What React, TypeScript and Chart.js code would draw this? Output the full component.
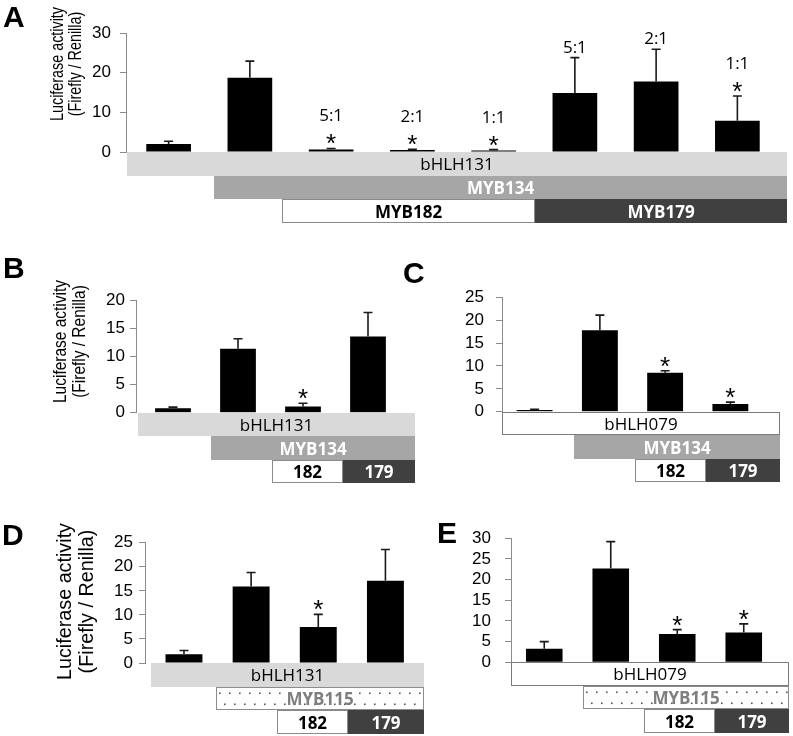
import React, { useEffect, useRef } from 'react';
import { Chart, registerables } from 'chart.js';
Chart.register(...registerables);

// ---------------- Data ----------------
const categoriesA = ['bHLH131', 'bHLH131+MYB134', '+MYB182 5:1', '+MYB182 2:1', '+MYB182 1:1', '+MYB179 5:1', '+MYB179 2:1', '+MYB179 1:1'];
const valuesA = [2.0, 18.7, 0.6, 0.5, 0.4, 14.9, 17.8, 7.9];
const errorsA = [0.7, 4.2, 0.3, 0.2, 0.2, 8.9, 8.1, 6.2];
const ratiosA = ['', '', '5:1', '2:1', '1:1', '5:1', '2:1', '1:1'];
const starsA = [false, false, true, true, true, false, false, true];
const yTicksA = [0, 10, 20, 30];

const categoriesB = ['bHLH131', '+MYB134', '+MYB134+MYB182', '+MYB134+MYB179'];
const valuesB = [0.8, 11.4, 1.1, 13.6];
const errorsB = [0.2, 1.8, 0.6, 4.3];
const starsB = [false, false, true, false];
const yTicksB = [0, 5, 10, 15, 20];

const categoriesC = ['bHLH079', '+MYB134', '+MYB134+MYB182', '+MYB134+MYB179'];
const valuesC = [0.35, 17.8, 8.5, 1.7];
const errorsC = [0.15, 3.3, 0.45, 0.4];
const starsC = [false, false, true, true];
const yTicksC = [0, 5, 10, 15, 20, 25];

const categoriesD = ['bHLH131', '+MYB115', '+MYB115+MYB182', '+MYB115+MYB179'];
const valuesD = [1.8, 15.9, 7.5, 17.1];
const errorsD = [0.8, 2.9, 2.6, 6.5];
const starsD = [false, false, true, false];
const yTicksD = [0, 5, 10, 15, 20, 25];

const categoriesE = ['bHLH079', '+MYB115', '+MYB115+MYB182', '+MYB115+MYB179'];
const valuesE = [3.3, 22.7, 6.85, 7.2];
const errorsE = [1.7, 6.5, 1.05, 2.1];
const starsE = [false, false, true, true];
const yTicksE = [0, 5, 10, 15, 20, 25, 30];

const yTitleLines = ['Luciferase activity', '(Firefly / Renilla)'];

// Construct boxes below the axis (ranges in category-index units)
type BoxKind = 'light' | 'mid' | 'white' | 'whiteBold' | 'dark' | 'dots';
type Box = { text: string; from: number; to: number; row: number; kind: BoxKind };

const boxesA: Box[] = [
  { text: 'bHLH131', from: -0.51, to: 7.61, row: 0, kind: 'light' },
  { text: 'MYB134', from: 0.56, to: 7.61, row: 1, kind: 'mid' },
  { text: 'MYB182', from: 1.4, to: 4.51, row: 2, kind: 'whiteBold' },
  { text: 'MYB179', from: 4.51, to: 7.61, row: 2, kind: 'dark' },
];
const boxesB: Box[] = [
  { text: 'bHLH131', from: -0.54, to: 3.72, row: 0, kind: 'light' },
  { text: 'MYB134', from: 0.585, to: 3.72, row: 1, kind: 'mid' },
  { text: '182', from: 1.52, to: 2.61, row: 2, kind: 'whiteBold' },
  { text: '179', from: 2.61, to: 3.72, row: 2, kind: 'dark' },
];
const boxesC: Box[] = [
  { text: 'bHLH079', from: -0.5, to: 3.76, row: 0, kind: 'white' },
  { text: 'MYB134', from: 0.6, to: 3.76, row: 1, kind: 'mid' },
  { text: '182', from: 1.54, to: 2.62, row: 2, kind: 'whiteBold' },
  { text: '179', from: 2.62, to: 3.76, row: 2, kind: 'dark' },
];
const boxesD: Box[] = [
  { text: 'bHLH131', from: -0.49, to: 3.57, row: 0, kind: 'light' },
  { text: 'MYB115', from: 0.48, to: 3.57, row: 1, kind: 'dots' },
  { text: '182', from: 1.385, to: 2.44, row: 2, kind: 'whiteBold' },
  { text: '179', from: 2.44, to: 3.57, row: 2, kind: 'dark' },
];
const boxesE: Box[] = [
  { text: 'bHLH079', from: -0.5, to: 3.68, row: 0, kind: 'white' },
  { text: 'MYB115', from: 0.58, to: 3.68, row: 1, kind: 'dots' },
  { text: '182', from: 1.5, to: 2.57, row: 2, kind: 'whiteBold' },
  { text: '179', from: 2.57, to: 3.68, row: 2, kind: 'dark' },
];

type Layout = {
  left: number; top: number; w: number; h: number;
  axisX: number; plotLeft: number; plotRight: number; plotTop: number; plotBottom: number;
  tickPad: number; letterX: number; letterY: number;
  title?: { x1: number; x2: number; y: number; len: number; size: number };
};

type Spec = {
  letter: string; cats: string[]; vals: number[]; errs: number[]; ratios: string[]; stars: boolean[];
  yTicks: number[]; boxes: Box[]; L: Layout;
};

const specs: Spec[] = [
  {
    letter: 'A', cats: categoriesA, vals: valuesA, errs: errorsA, ratios: ratiosA, stars: starsA, yTicks: yTicksA, boxes: boxesA,
    L: { left: 0, top: 0, w: 793, h: 232, axisX: 126, plotLeft: 128, plotRight: 778, plotTop: 33, plotBottom: 152, tickPad: 9, letterX: 3, letterY: 27,
      title: { x1: 58.5, x2: 76.5, y: 64, len: 114, size: 18 } },
  },
  {
    letter: 'B', cats: categoriesB, vals: valuesB, errs: errorsB, ratios: [], stars: starsB, yTicks: yTicksB, boxes: boxesB,
    L: { left: 0, top: 250, w: 420, h: 240, axisX: 136, plotLeft: 140.5, plotRight: 400.5, plotTop: 50.7, plotBottom: 162.7, tickPad: 5, letterX: 3, letterY: 28,
      title: { x1: 61.5, x2: 80.5, y: 91.5, len: 123, size: 18 } },
  },
  {
    letter: 'C', cats: categoriesC, vals: valuesC, errs: errorsC, ratios: [], stars: starsC, yTicks: yTicksC, boxes: boxesC,
    L: { left: 400, top: 250, w: 393, h: 240, axisX: 102, plotLeft: 102, plotRight: 363, plotTop: 47.3, plotBottom: 161.7, tickPad: 12, letterX: 3, letterY: 33 },
  },
  {
    letter: 'D', cats: categoriesD, vals: valuesD, errs: errorsD, ratios: [], stars: starsD, yTicks: yTicksD, boxes: boxesD,
    L: { left: 0, top: 500, w: 430, h: 236, axisX: 145, plotLeft: 150.4, plotRight: 419, plotTop: 42.7, plotBottom: 163, tickPad: 6, letterX: 2, letterY: 45,
      title: { x1: 66, x2: 87.5, y: 101.5, len: 157, size: 19.5 } },
  },
  {
    letter: 'E', cats: categoriesE, vals: valuesE, errs: errorsE, ratios: [], stars: starsE, yTicks: yTicksE, boxes: boxesE,
    L: { left: 400, top: 500, w: 393, h: 236, axisX: 111, plotLeft: 111, plotRight: 377, plotTop: 38.3, plotBottom: 162.3, tickPad: 14, letterX: 37, letterY: 43 },
  },
];

const ROW_H = 23.5;
const BOX_FONT = '"Open Sans", "Noto Sans", sans-serif';
const AX_FONT = '"Liberation Sans", Arial, sans-serif';

function centerText(ctx: CanvasRenderingContext2D, text: string, x: number, y: number) {
  const m = ctx.measureText(text);
  ctx.textAlign = 'center';
  ctx.textBaseline = 'alphabetic';
  ctx.fillText(text, x, y + (m.actualBoundingBoxAscent - m.actualBoundingBoxDescent) / 2);
}

let dotPattern: CanvasPattern | null = null;
function getDots(ctx: CanvasRenderingContext2D) {
  if (dotPattern) return dotPattern;
  const pc = document.createElement('canvas');
  pc.width = 10; pc.height = 22;
  const p = pc.getContext('2d')!;
  p.fillStyle = '#ffffff';
  p.fillRect(0, 0, 10, 22);
  p.fillStyle = '#555555';
  p.fillRect(3, 5.5, 1.6, 1.6);
  p.fillRect(8, 16.5, 1.6, 1.6);
  dotPattern = ctx.createPattern(pc, 'repeat');
  return dotPattern!;
}

function makePlugin(s: Spec) {
  return {
    id: 'panel' + s.letter,
    afterLayout(chart: any) {
      const x = chart.scales.x;
      x.left = s.L.plotLeft;
      x.right = s.L.plotRight;
      x.width = x.right - x.left;
      x.configure();
    },
    afterDatasetsDraw(chart: any) {
      const ctx: CanvasRenderingContext2D = chart.ctx;
      const y = chart.scales.y;
      const meta = chart.getDatasetMeta(0);
      ctx.save();
      meta.data.forEach((el: any, i: number) => {
        const top = y.getPixelForValue(s.vals[i] + s.errs[i]);
        ctx.strokeStyle = '#1a1a1a';
        ctx.lineWidth = 1.6;
        ctx.beginPath();
        ctx.moveTo(el.x, el.y);
        ctx.lineTo(el.x, top);
        ctx.moveTo(el.x - 4.5, top);
        ctx.lineTo(el.x + 4.5, top);
        ctx.stroke();
        ctx.fillStyle = '#000';
        if (s.stars[i]) {
          ctx.font = `26px ${AX_FONT}`;
          centerText(ctx, '*', el.x, top - 9);
        }
        const r = s.ratios[i];
        if (r) {
          ctx.font = `17px ${BOX_FONT}`;
          centerText(ctx, r, el.x, s.stars[i] ? top - 33 : top - 11);
        }
      });
      ctx.restore();
    },
    afterDraw(chart: any) {
      const ctx: CanvasRenderingContext2D = chart.ctx;
      const x = chart.scales.x;
      const base = chart.chartArea.bottom;
      ctx.save();
      s.boxes.forEach((b) => {
        const x0 = Math.round(x.getPixelForValue(b.from));
        const x1 = Math.round(x.getPixelForValue(b.to));
        const y0 = Math.round(base + b.row * ROW_H);
        const y1 = Math.round(base + (b.row + 1) * ROW_H);
        const w = x1 - x0, h = y1 - y0;
        let fill: any = '#fff', stroke: string | null = null, color = '#000', bold = false;
        switch (b.kind) {
          case 'light': fill = '#d9d9d9'; break;
          case 'mid': fill = '#a6a6a6'; color = '#fff'; bold = true; break;
          case 'white': fill = '#fff'; stroke = '#7a7a7a'; break;
          case 'whiteBold': fill = '#fff'; stroke = '#8a8a8a'; bold = true; break;
          case 'dark': fill = '#404040'; color = '#fff'; bold = true; break;
          case 'dots': fill = getDots(ctx); stroke = '#8c8c8c'; color = '#7f7f7f'; bold = true; break;
        }
        ctx.save();
        ctx.translate(x0, y0);
        ctx.fillStyle = fill;
        ctx.fillRect(0, 0, w, h);
        ctx.restore();
        if (stroke) {
          ctx.strokeStyle = stroke;
          ctx.lineWidth = 1;
          ctx.strokeRect(x0 + 0.5, y0 + 0.5, w - 1, h - 1);
        }
        ctx.fillStyle = color;
        ctx.font = `${bold ? 'bold ' : ''}17px ${BOX_FONT}`;
        centerText(ctx, b.text, (x0 + x1) / 2, (y0 + y1) / 2);
      });
      const t = s.L.title;
      if (t) {
        ctx.fillStyle = '#000';
        ctx.font = `${t.size}px ${AX_FONT}`;
        const sc = t.len / ctx.measureText(yTitleLines[0]).width;
        [t.x1, t.x2].forEach((cx, i) => {
          ctx.save();
          ctx.translate(cx, t.y);
          ctx.rotate(-Math.PI / 2);
          ctx.scale(sc, 1);
          ctx.textAlign = 'center';
          ctx.textBaseline = 'middle';
          ctx.fillText(yTitleLines[i], 0, 0);
          ctx.restore();
        });
      }
      ctx.fillStyle = '#000';
      ctx.font = `bold 30px ${AX_FONT}`;
      ctx.textAlign = 'left';
      ctx.textBaseline = 'alphabetic';
      ctx.fillText(s.letter, s.L.letterX, s.L.letterY);
      ctx.restore();
    },
  };
}

function Panel({ spec }: { spec: Spec }) {
  const ref = useRef<HTMLCanvasElement>(null);
  useEffect(() => {
    const canvas = ref.current!;
    const L = spec.L;
    const chart = new Chart(canvas, {
      type: 'bar',
      data: {
        labels: spec.cats,
        datasets: [{
          data: spec.vals,
          backgroundColor: '#000000',
          borderWidth: 0,
          barPercentage: 0.55,
          categoryPercentage: 1,
        }],
      },
      options: {
        responsive: false,
        animation: false,
        events: [],
        layout: { padding: { left: 0, top: L.plotTop, right: L.w - L.plotRight, bottom: L.h - L.plotBottom } },
        plugins: { legend: { display: false }, tooltip: { enabled: false } },
        scales: {
          x: { display: false, offset: true, grid: { display: false } },
          y: {
            min: 0,
            max: spec.yTicks[spec.yTicks.length - 1],
            ticks: {
              stepSize: spec.yTicks[1] - spec.yTicks[0],
              autoSkip: false,
              color: '#000',
              padding: L.tickPad,
              font: { family: AX_FONT, size: 17 },
            },
            grid: { drawOnChartArea: false, drawTicks: true, tickLength: 6, color: '#8c8c8c', lineWidth: 1 },
            border: { display: true, color: '#8c8c8c', width: 1 },
            afterFit: (sc: any) => { sc.width = L.axisX; },
          },
        },
      } as any,
      plugins: [makePlugin(spec)],
    });
    return () => chart.destroy();
  }, [spec]);
  const L = spec.L;
  return (
    <canvas
      ref={ref}
      width={L.w}
      height={L.h}
      style={{ position: 'absolute', left: L.left, top: L.top, width: L.w, height: L.h }}
    />
  );
}

export default function App() {
  return (
    <div style={{ position: 'absolute', left: 0, top: 0, width: 793, height: 736, background: '#fff', overflow: 'hidden' }}>
      {specs.map((s) => <Panel key={s.letter} spec={s} />)}
    </div>
  );
}
